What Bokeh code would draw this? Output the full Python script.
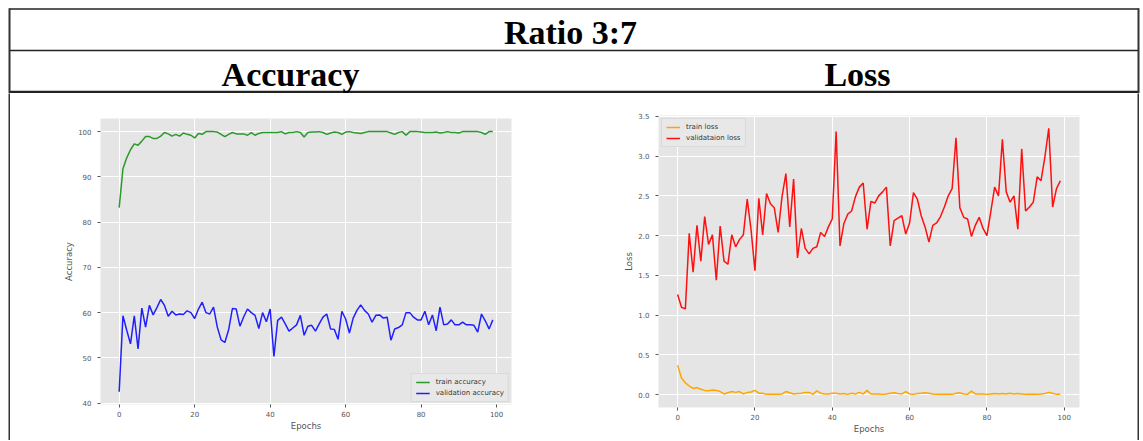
from bokeh.plotting import figure
from bokeh.layouts import column, row
from bokeh.models import Range1d, FixedTicker, NumeralTickFormatter, Legend, LegendItem
from bokeh.embed import file_html
from bokeh.resources import INLINE
from bokeh.core.properties import value

# ---------------- data ----------------
table_title = "Ratio 3:7"
column_titles = ["Accuracy", "Loss"]

epochs = list(range(100))

train_acc = [83.2, 91.8, 94.2, 96.0, 97.3, 97.0, 97.9, 98.9, 98.9, 98.5,
             98.5, 99.0, 99.8, 99.5, 99.0, 99.4, 99.0, 99.7, 99.4, 99.2,
             98.6, 99.6, 99.4, 100.0, 100.0, 100.0, 99.9, 99.4, 98.9, 99.4,
             99.8, 99.5, 99.5, 99.5, 99.2, 99.8, 99.2, 99.6, 99.8, 99.8,
             99.8, 99.8, 99.8, 100.0, 99.5, 99.8, 99.8, 100.0, 99.8, 98.8,
             99.8, 99.9, 99.9, 100.0, 99.8, 99.4, 99.7, 99.9, 99.8, 99.4,
             99.9, 100.0, 99.8, 99.7, 99.6, 99.8, 100.0, 100.0, 100.0, 100.0,
             100.0, 100.0, 99.7, 99.4, 99.8, 100.0, 99.2, 100.0, 100.0, 100.0,
             99.9, 99.8, 99.8, 99.8, 99.9, 99.7, 99.8, 100.0, 99.8, 99.8,
             99.7, 100.0, 100.0, 100.0, 100.0, 100.0, 99.8, 99.4, 100.0, 100.0]

val_acc = [42.5, 59.3, 56.1, 53.1, 59.3, 52.0, 61.0, 56.8, 61.6, 59.5,
           61.1, 62.9, 61.6, 59.2, 60.3, 59.5, 59.7, 59.6, 60.4, 60.0,
           58.7, 60.8, 62.3, 60.0, 59.7, 61.2, 56.8, 54.0, 53.4, 56.2,
           60.9, 60.8, 57.0, 59.1, 60.8, 60.0, 59.4, 56.5, 60.0, 58.0,
           60.8, 50.3, 58.3, 59.0, 57.5, 55.9, 56.6, 57.3, 59.4, 55.0,
           57.0, 57.2, 55.9, 57.5, 59.0, 59.7, 56.4, 56.3, 54.1, 60.3,
           58.6, 55.5, 58.8, 60.5, 61.7, 60.5, 59.7, 57.9, 59.4, 59.5,
           58.8, 59.0, 53.9, 56.4, 56.7, 57.3, 60.0, 60.0, 59.0, 58.4,
           58.4, 60.3, 57.3, 59.5, 56.0, 61.2, 57.3, 57.5, 58.4, 57.3,
           57.3, 57.9, 57.3, 57.3, 57.2, 55.7, 59.7, 58.2, 56.4, 58.4]

train_loss = [0.37, 0.21, 0.15, 0.11, 0.08, 0.09, 0.07, 0.055, 0.05, 0.06,
              0.055, 0.04, 0.01, 0.025, 0.04, 0.03, 0.04, 0.01, 0.03, 0.035,
              0.055, 0.02, 0.02, 0.005, 0.005, 0.005, 0.008, 0.01, 0.04, 0.025,
              0.01, 0.015, 0.02, 0.03, 0.03, 0.005, 0.05, 0.02, 0.01, 0.01,
              0.02, 0.02, 0.01, 0.015, 0.005, 0.02, 0.01, 0.03, 0.01, 0.055,
              0.01, 0.01, 0.01, 0.005, 0.01, 0.02, 0.025, 0.015, 0.01, 0.04,
              0.01, 0.005, 0.015, 0.02, 0.025, 0.02, 0.01, 0.005, 0.005, 0.005,
              0.005, 0.005, 0.02, 0.025, 0.01, 0.005, 0.045, 0.01, 0.01, 0.01,
              0.005, 0.01, 0.015, 0.01, 0.015, 0.01, 0.02, 0.01, 0.015, 0.01,
              0.005, 0.005, 0.005, 0.005, 0.01, 0.015, 0.03, 0.02, 0.005, 0.005]

val_loss = [1.26, 1.10, 1.08, 2.03, 1.54, 2.13, 1.68, 2.24, 1.89, 2.01,
            1.44, 2.12, 1.68, 1.64, 2.01, 1.86, 1.95, 2.01, 2.46, 2.07,
            1.56, 2.47, 2.01, 2.53, 2.40, 2.35, 2.04, 2.49, 2.78, 2.11,
            2.71, 1.72, 2.09, 1.84, 1.77, 1.84, 1.86, 2.04, 1.99, 2.11,
            2.21, 3.31, 1.87, 2.15, 2.27, 2.31, 2.49, 2.61, 2.66, 2.08,
            2.43, 2.41, 2.50, 2.55, 2.61, 1.87, 2.19, 2.22, 2.25, 2.02,
            2.16, 2.54, 2.46, 2.25, 2.11, 1.92, 2.13, 2.16, 2.24, 2.36,
            2.50, 2.59, 3.23, 2.35, 2.23, 2.21, 1.99, 2.13, 2.23, 2.09,
            2.00, 2.30, 2.61, 2.50, 3.21, 2.55, 2.42, 2.50, 2.08, 3.09,
            2.31, 2.36, 2.42, 2.74, 2.69, 2.99, 3.35, 2.36, 2.59, 2.69]

x_ticks = [0, 20, 40, 60, 80, 100]
acc_ticks = [40, 50, 60, 70, 80, 90, 100]
loss_ticks = [0.0, 0.5, 1.0, 1.5, 2.0, 2.5, 3.0, 3.5]

acc_labels = ["train accuracy", "validation accuracy"]
loss_labels = ["train loss", "validataion loss"]

# ---------------- layout constants ----------------
W = 1141
HDR_H = 93
ROW_H = 347
LINE = "#222222"
SERIF = "Liberation Serif"
SANS = "DejaVu Sans"
XL, XR = 9, 1138   # table's left / right border (px)

# ---------------- header (table top) ----------------
hdr = figure(width=W, height=HDR_H, x_range=Range1d(0, W), y_range=Range1d(HDR_H, 0),
             x_axis_location=None, y_axis_location=None, toolbar_location=None,
             output_backend="svg", min_border=0, outline_line_color=None,
             background_fill_color="white", border_fill_color="white")
hdr.grid.visible = False
hdr.segment(x0=[XL, XL, XL], y0=[8.5, 50, 91.6], x1=[XR, XR, XR], y1=[8.5, 50, 91.6],
            line_color=LINE, line_width=[1.6, 1.6, 2.6])
hdr.segment(x0=[XL, XR], y0=[7.7, 7.7], x1=[XL, XR], y1=[HDR_H, HDR_H],
            line_color="#333333", line_width=2)
hdr.text(x=[570], y=[32], text=[table_title], text_font=value(SERIF),
         text_font_style="bold", text_font_size="34px", text_align="center",
         text_baseline="middle", text_color="black")
hdr.text(x=[290, 857], y=[73.5, 73.5], text=column_titles, text_font=value(SERIF),
         text_font_style="bold", text_font_size="34px", text_align="center",
         text_baseline="middle", text_color="black")


def filler(width, color):
    f = figure(width=width, height=ROW_H, x_axis_location=None, y_axis_location=None,
               toolbar_location=None, output_backend="svg", min_border=0,
               background_fill_color=color, border_fill_color=color, outline_line_color=None)
    f.grid.visible = False
    return f


def style(p, xlabel, ylabel):
    p.background_fill_color = "#E5E5E5"
    p.border_fill_color = "white"
    p.outline_line_color = None
    p.grid.grid_line_color = "white"
    p.grid.grid_line_width = 1
    p.xaxis.ticker = FixedTicker(ticks=x_ticks)
    p.xaxis.axis_label = xlabel
    p.yaxis.axis_label = ylabel
    for ax in p.axis:
        ax.axis_line_color = None
        ax.major_tick_line_color = "#555555"
        ax.major_tick_out = 3
        ax.major_tick_in = 0
        ax.minor_tick_line_color = None
        ax.major_label_text_font = SANS
        ax.major_label_text_font_size = "7px"
        ax.major_label_text_color = "#555555"
        ax.major_label_standoff = 3
        ax.axis_label_text_font = SANS
        ax.axis_label_text_font_size = "8.5px"
        ax.axis_label_text_color = "#555555"
        ax.axis_label_text_font_style = "normal"
        ax.axis_label_standoff = 1
    p.yaxis.major_label_standoff = 6
    p.yaxis.axis_label_standoff = 1


def style_legend(leg):
    leg.label_text_font = SANS
    leg.label_text_font_size = "7px"
    leg.label_text_color = "#333333"
    leg.glyph_width = 14
    leg.glyph_height = 8
    leg.label_height = 8
    leg.label_standoff = 6
    leg.spacing = 3
    leg.padding = 4
    leg.margin = 3
    leg.background_fill_color = "#E8E8E8"
    leg.background_fill_alpha = 1.0
    leg.border_line_color = "#CCCCCC"
    leg.border_line_width = 1


# ---------------- accuracy chart ----------------
p1 = figure(width=570, height=ROW_H, x_range=Range1d(-4.95, 103.95), y_range=Range1d(39.7, 102.9),
            toolbar_location=None, output_backend="svg",
            min_border_left=90, min_border_right=69, min_border_top=25, min_border_bottom=36)
style(p1, "Epochs", "Accuracy")
p1.yaxis.ticker = FixedTicker(ticks=acc_ticks)
r1 = p1.line(epochs, train_acc, line_color="#2a9a2a", line_width=1.5)
r2 = p1.line(epochs, val_acc, line_color="#2020ff", line_width=1.5)
leg1 = Legend(items=[LegendItem(label=acc_labels[0], renderers=[r1]),
                     LegendItem(label=acc_labels[1], renderers=[r2])],
              location="bottom_right")
style_legend(leg1)
leg1.margin = 2
p1.add_layout(leg1)

# ---------------- loss chart ----------------
p2 = figure(width=557, height=ROW_H, x_range=Range1d(-4.95, 103.95), y_range=Range1d(-0.16, 3.51),
            toolbar_location=None, output_backend="svg",
            min_border_left=78, min_border_right=58, min_border_top=22, min_border_bottom=33)
style(p2, "Epochs", "Loss")
p2.yaxis.ticker = FixedTicker(ticks=loss_ticks)
p2.yaxis.formatter = NumeralTickFormatter(format="0.0")
r3 = p2.line(epochs, train_loss, line_color="#FFA500", line_width=1.5)
r4 = p2.line(epochs, val_loss, line_color="#FF1010", line_width=1.5)
leg2 = Legend(items=[LegendItem(label=loss_labels[0], renderers=[r3]),
                     LegendItem(label=loss_labels[1], renderers=[r4])],
              location="top_left")
style_legend(leg2)
p2.add_layout(leg2)

bottom = row(filler(8, "white"), filler(2, "#333333"), column(p1), column(p2),
             filler(2, "#333333"), filler(2, "white"), spacing=0)
layout = column(hdr, bottom, spacing=0)

open("out.html", "w").write(file_html(layout, INLINE))
